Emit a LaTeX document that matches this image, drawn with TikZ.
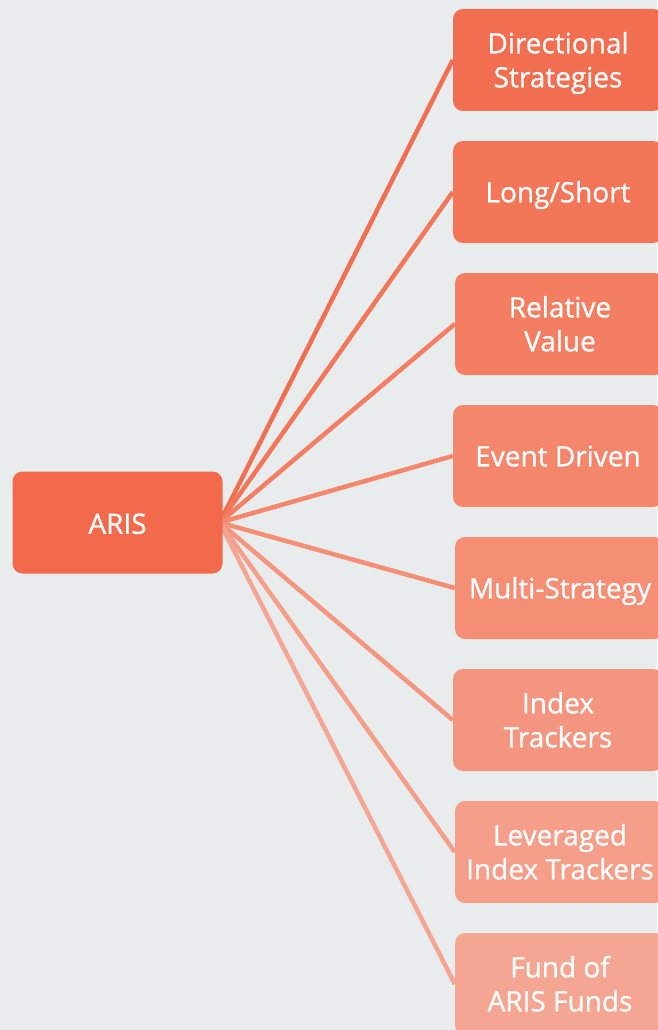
\documentclass[tikz,border=0pt]{standalone}
\usepackage{fontspec}
\setmainfont{Open Sans}[FakeBold=0.7]
\newcommand\boxtext[2][-3.5pt]{\raisebox{#1}[\height][\depth]{\begin{tabular}{@{}c@{}}#2\end{tabular}}}
\begin{document}
\pgfdeclarelayer{bg}
\pgfdeclarelayer{back}
\pgfsetlayers{back,bg,main}
\begin{tikzpicture}[x=1pt,y=1pt,
  box/.style={rounded corners=10pt, minimum width=210pt, minimum height=102pt, inner sep=0pt,
    align=center, text=white, font=\fontsize{28}{34}\selectfont},
  link/.style={line width=4.5pt}]
\definecolor{bgc}{HTML}{E8ECED}
\definecolor{c0}{HTML}{F26A4B}
\definecolor{c1}{HTML}{F26E51}
\definecolor{c2}{HTML}{F37659}
\definecolor{c3}{HTML}{F37E62}
\definecolor{c4}{HTML}{F4866C}
\definecolor{c5}{HTML}{F48E75}
\definecolor{c6}{HTML}{F4967F}
\definecolor{c7}{HTML}{F59E89}
\definecolor{c8}{HTML}{F5A693}
\begin{pgfonlayer}{back}
\fill[bgc] (0,0) rectangle (657,-1030);
\end{pgfonlayer}
\useasboundingbox (0,0) rectangle (657,-1030);
\node[box, fill=c0] (aris) at (117.5,-522.5) {\boxtext[-4.5pt]{ARIS}};
\node[box, fill=c1] (b1) at (558,-60) {\boxtext{Directional\\Strategies}};
\node[box, fill=c2] (b2) at (558,-192) {\boxtext{Long/Short}};
\node[box, fill=c3] (b3) at (560,-324) {\boxtext{Relative\\Value}};
\node[box, fill=c4] (b4) at (558,-456) {\boxtext{Event Driven}};
\node[box, fill=c5] (b5) at (560,-588) {\boxtext{Multi-Strategy}};
\node[box, fill=c6] (b6) at (558,-720) {\boxtext{Index\\Trackers}};
\node[box, fill=c7] (b7) at (560,-852) {\boxtext{Leveraged\\Index Trackers}};
\node[box, fill=c8] (b8) at (560,-984) {\boxtext{Fund of\\ARIS Funds}};
\coordinate (hub) at ([xshift=-3pt]aris.east);
\begin{pgfonlayer}{bg}
\foreach \i in {1,...,8}{
  \draw[link, draw=c\i] (hub) -- (b\i.west);
}
\end{pgfonlayer}
\end{tikzpicture}
\end{document}
